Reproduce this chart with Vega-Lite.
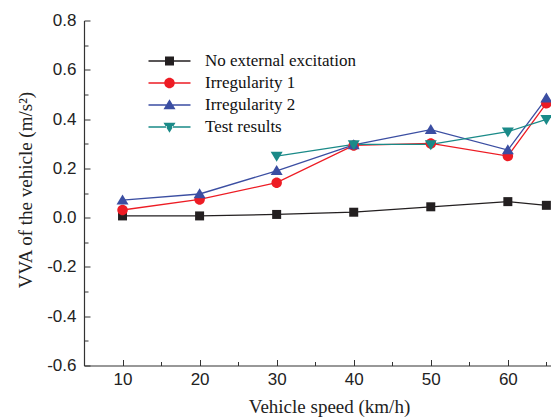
{
  "$schema": "https://vega.github.io/schema/vega-lite/v6.json",
  "width": 467,
  "height": 345,
  "autosize": {"type": "none"},
  "padding": {"left": 84, "top": 20.5, "right": 0, "bottom": 53.5},
  "background": "white",
  "config": {
    "view": {"stroke": null},
    "axis": {
      "grid": false,
      "domainColor": "#333333",
      "tickColor": "#333333",
      "labelColor": "#222222",
      "labelFont": "Liberation Sans",
      "labelFontSize": 17,
      "titleFont": "Liberation Serif",
      "titleFontSize": 19,
      "titleFontWeight": "normal",
      "titleColor": "#222222",
      "domainWidth": 1.2,
      "tickWidth": 1
    }
  },
  "data": {
    "values": [
      {"speed": 10, "vva": 0.007, "series": "No external excitation"},
      {"speed": 20, "vva": 0.007, "series": "No external excitation"},
      {"speed": 30, "vva": 0.013, "series": "No external excitation"},
      {"speed": 40, "vva": 0.022, "series": "No external excitation"},
      {"speed": 50, "vva": 0.044, "series": "No external excitation"},
      {"speed": 60, "vva": 0.065, "series": "No external excitation"},
      {"speed": 65, "vva": 0.05, "series": "No external excitation"},
      {"speed": 10, "vva": 0.031, "series": "Irregularity 1"},
      {"speed": 20, "vva": 0.074, "series": "Irregularity 1"},
      {"speed": 30, "vva": 0.142, "series": "Irregularity 1"},
      {"speed": 40, "vva": 0.293, "series": "Irregularity 1"},
      {"speed": 50, "vva": 0.301, "series": "Irregularity 1"},
      {"speed": 60, "vva": 0.25, "series": "Irregularity 1"},
      {"speed": 65, "vva": 0.464, "series": "Irregularity 1"},
      {"speed": 10, "vva": 0.071, "series": "Irregularity 2"},
      {"speed": 20, "vva": 0.096, "series": "Irregularity 2"},
      {"speed": 30, "vva": 0.19, "series": "Irregularity 2"},
      {"speed": 40, "vva": 0.295, "series": "Irregularity 2"},
      {"speed": 50, "vva": 0.357, "series": "Irregularity 2"},
      {"speed": 60, "vva": 0.274, "series": "Irregularity 2"},
      {"speed": 65, "vva": 0.484, "series": "Irregularity 2"},
      {"speed": 30, "vva": 0.25, "series": "Test results"},
      {"speed": 40, "vva": 0.297, "series": "Test results"},
      {"speed": 50, "vva": 0.297, "series": "Test results"},
      {"speed": 60, "vva": 0.349, "series": "Test results"},
      {"speed": 65, "vva": 0.399, "series": "Test results"}
    ]
  },
  "layer": [
    {
      "mark": {"type": "line", "strokeWidth": 1.3},
      "encoding": {
        "x": {
          "field": "speed", "type": "quantitative",
          "scale": {"domain": [5, 65.6], "nice": false, "zero": false},
          "axis": {
            "values": [10, 20, 30, 40, 50, 60],
            "tickSize": -6,
            "labelPadding": 12,
            "title": "Vehicle speed (km/h)",
            "titleX": 245,
            "titleY": 41,
            "titleBaseline": "middle",
            "titleAlign": "center"
          }
        },
        "y": {
          "field": "vva", "type": "quantitative",
          "scale": {"domain": [-0.6, 0.8], "nice": false, "zero": false},
          "axis": {
            "values": [-0.6, -0.4, -0.2, 0, 0.2, 0.4, 0.6, 0.8],
            "labelExpr": "datum.value < 0 ? '-' + format(-datum.value, '.1f') : format(datum.value, '.1f')",
            "tickSize": -6,
            "labelPadding": 14,
            "title": "VVA of the vehicle (m/s²)",
            "titleX": -59,
            "titleY": 169,
            "titleAngle": -90,
            "titleBaseline": "middle",
            "titleAlign": "center"
          }
        },
        "color": {
          "field": "series", "type": "nominal",
          "scale": {
            "domain": ["No external excitation", "Irregularity 1", "Irregularity 2", "Test results"],
            "range": ["#231f20", "#ed1c24", "#3b4ea2", "#1a8a88"]
          },
          "legend": null
        }
      }
    },
    {
      "mark": {"type": "point", "filled": true, "opacity": 1, "size": 100},
      "encoding": {
        "x": {"field": "speed", "type": "quantitative", "axis": null},
        "y": {"field": "vva", "type": "quantitative", "axis": null},
        "color": {
          "field": "series", "type": "nominal",
          "scale": {
            "domain": ["No external excitation", "Irregularity 1", "Irregularity 2", "Test results"],
            "range": ["#231f20", "#ed1c24", "#3b4ea2", "#1a8a88"]
          },
          "legend": null
        },
        "shape": {
          "field": "series", "type": "nominal",
          "scale": {
            "domain": ["No external excitation", "Irregularity 1", "Irregularity 2", "Test results"],
            "range": [
              "M-0.9,-0.9H0.9V0.9H-0.9Z",
              "M-1.05,0A1.05,1.05,0,1,1,1.05,0A1.05,1.05,0,1,1,-1.05,0Z",
              "M0,-1.15L1.2,0.85H-1.2Z",
              "M0,1.15L1.2,-0.85H-1.2Z"
            ]
          },
          "legend": null
        }
      }
    },
    {
      "mark": {"type": "point", "filled": true, "opacity": 0, "size": 100},
      "encoding": {
        "x": {
          "field": "speed", "type": "quantitative",
          "axis": {"orient": "bottom", "values": [15, 25, 35, 45, 55, 65], "tickSize": -4, "labels": false, "domain": false, "title": null}
        },
        "y": {
          "field": "vva", "type": "quantitative",
          "axis": {"orient": "left", "values": [-0.5, -0.3, -0.1, 0.1, 0.3, 0.5, 0.7], "tickSize": -4, "labels": false, "domain": false, "title": null}
        },
        "color": {
          "field": "series", "type": "nominal",
          "scale": {
            "domain": ["No external excitation", "Irregularity 1", "Irregularity 2", "Test results"],
            "range": ["#231f20", "#ed1c24", "#3b4ea2", "#1a8a88"]
          },
          "legend": {
            "orient": "none", "legendX": 77, "legendY": 32, "title": null,
            "labelFont": "Liberation Serif", "labelFontSize": 17, "labelColor": "#111111",
            "symbolSize": 100, "labelOffset": 27, "rowPadding": 4, "padding": 0,
            "symbolStrokeWidth": 0, "symbolOpacity": 1
          }
        },
        "shape": {
          "field": "series", "type": "nominal",
          "scale": {
            "domain": ["No external excitation", "Irregularity 1", "Irregularity 2", "Test results"],
            "range": [
              "M-4.2,-0.13H-0.5V0.13H-4.2Z M0.5,-0.13H4.2V0.13H0.5Z M-0.9,-0.9H0.9V0.9H-0.9Z",
              "M-4.2,-0.13H-0.5V0.13H-4.2Z M0.5,-0.13H4.2V0.13H0.5Z M-1.05,0A1.05,1.05,0,1,1,1.05,0A1.05,1.05,0,1,1,-1.05,0Z",
              "M-4.2,-0.13H-0.5V0.13H-4.2Z M0.5,-0.13H4.2V0.13H0.5Z M0,-1.15L1.2,0.85H-1.2Z",
              "M-4.2,-0.13H-0.5V0.13H-4.2Z M0.5,-0.13H4.2V0.13H0.5Z M0,1.15L1.2,-0.85H-1.2Z"
            ]
          },
          "legend": {
            "orient": "none", "legendX": 77, "legendY": 32, "title": null,
            "labelFont": "Liberation Serif", "labelFontSize": 17, "labelColor": "#111111",
            "symbolSize": 100, "labelOffset": 27, "rowPadding": 4, "padding": 0,
            "symbolStrokeWidth": 0, "symbolOpacity": 1
          }
        }
      }
    }
  ],
  "resolve": {
    "scale": {"shape": "independent", "color": "independent"},
    "axis": {"x": "independent", "y": "independent"}
  }
}
